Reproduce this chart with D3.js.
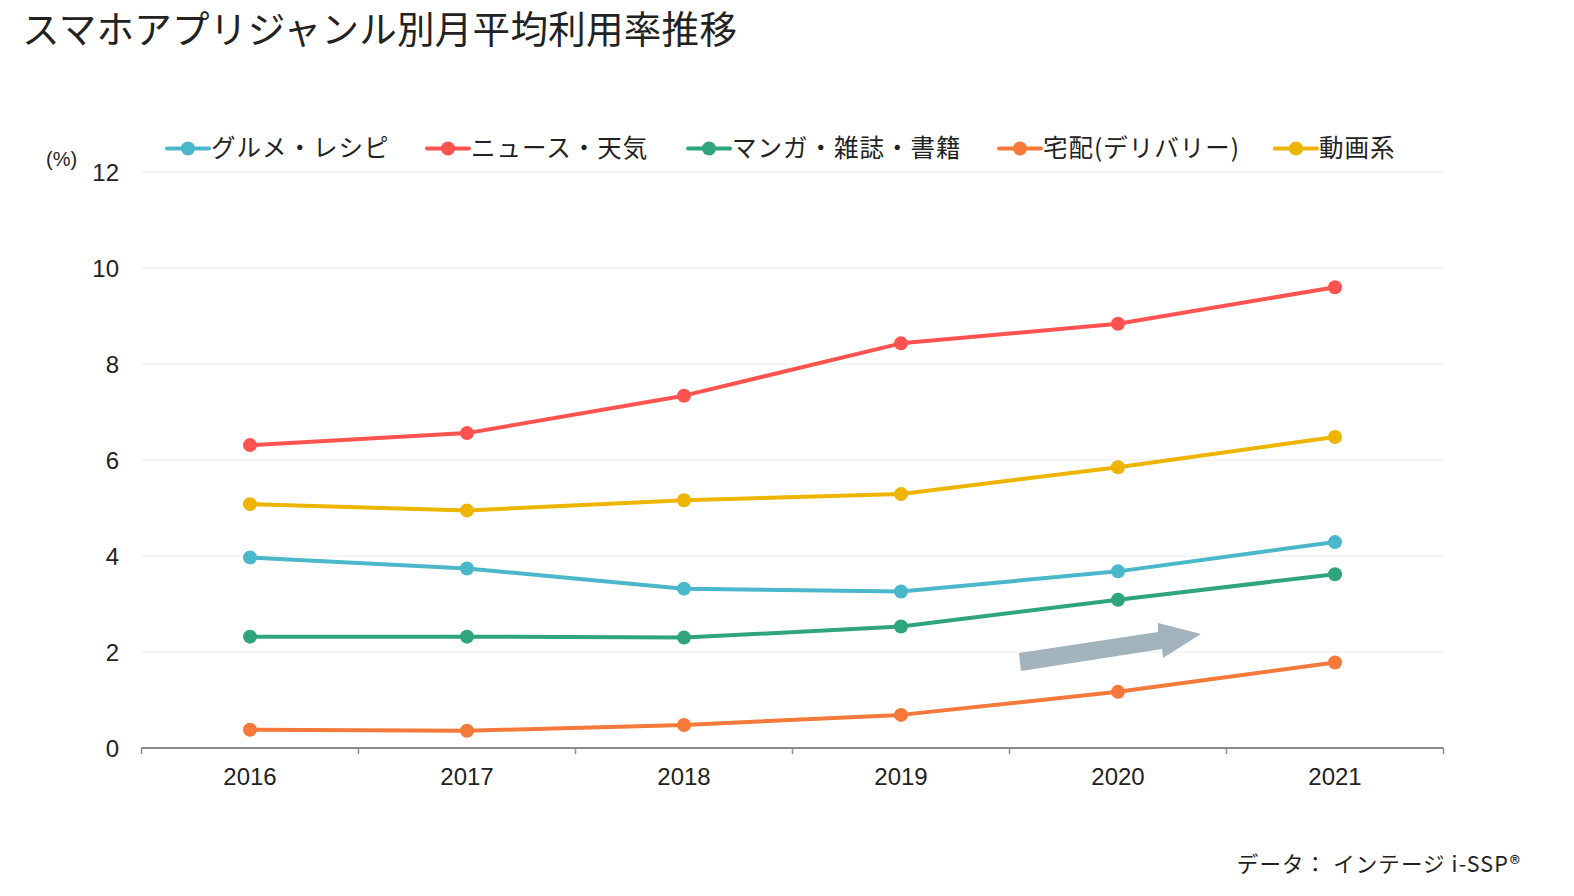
<!DOCTYPE html>
<html><head><meta charset="utf-8">
<script src="https://cdn.jsdelivr.net/npm/d3@7"></script>
<style>
body{margin:0;background:#fff;}
svg{display:block;}
text{font-family:"Noto Sans CJK JP","Noto Sans",sans-serif;}
</style></head>
<body><svg id="c" width="1574" height="896"></svg>
<script>
const years = ["2016","2017","2018","2019","2020","2021"];
const seriesNames = ["グルメ・レシピ","ニュース・天気","マンガ・雑誌・書籍","宅配(デリバリー)","動画系"];
const seriesColors = ["#4AB7CB","#FF5350","#2FA57C","#F5793A","#EDB500"];
const gourmet = [3.97,3.74,3.32,3.26,3.68,4.29];
const news = [6.31,6.56,7.34,8.43,8.84,9.60];
const manga = [2.32,2.32,2.30,2.53,3.09,3.62];
const delivery = [0.38,0.36,0.48,0.69,1.17,1.78];
const video = [5.08,4.95,5.16,5.29,5.85,6.48];
const yTicks = [0,2,4,6,8,10,12];
const seriesValues = [gourmet,news,manga,delivery,video];
const drawOrder = [3,2,0,4,1];

(function(){
const svg = d3.select("#c");
const pL = 141.5, pR = 1443.5, pT = 172, pB = 748;
const x = d3.scaleBand().domain(years).range([pL,pR]);
const y = d3.scaleLinear().domain([0,12]).range([pB,pT]);
const latin = "'Liberation Sans',Arial,sans-serif";

svg.append("text").attr("x",22).attr("y",43).attr("font-size",37.5).attr("letter-spacing",0.3).attr("fill","#222").text("スマホアプリジャンル別月平均利用率推移");

svg.append("g").selectAll("line").data(yTicks.filter(d=>d>0)).join("line")
  .attr("x1",pL).attr("x2",pR).attr("y1",d=>y(d)).attr("y2",d=>y(d))
  .attr("stroke","#ebebeb").attr("stroke-width",1.2);

svg.append("g").selectAll("text").data(yTicks).join("text")
  .attr("x",119).attr("y",d=>y(d)+8.5).attr("text-anchor","end")
  .attr("font-size",24).attr("fill","#222").style("font-family",latin).text(d=>d);
svg.append("text").attr("x",46).attr("y",166).attr("font-size",20).attr("fill","#222")
  .style("font-family",latin).text("(%)");

const xAxis = d3.axisBottom(x).tickSize(0).tickPadding(20);
const gx = svg.append("g").attr("transform",`translate(0,${pB})`).call(xAxis);
gx.select(".domain").remove();
gx.selectAll("text").attr("font-size",24).attr("fill","#222").style("font-family",latin);
svg.append("line").attr("x1",pL).attr("x2",pR).attr("y1",pB).attr("y2",pB).attr("stroke","#8c8c8c").attr("stroke-width",2);
const bounds = years.map(d=>x(d)).concat([pR]);
svg.append("g").selectAll("line").data(bounds).join("line")
  .attr("x1",d=>d).attr("x2",d=>d).attr("y1",pB).attr("y2",pB+6)
  .attr("stroke","#8c8c8c").attr("stroke-width",1.5);

svg.append("path")
  .attr("d","M1019,653 L1158,632 L1158,623 L1201,634 L1163,658 L1162,649 L1021,671 Z")
  .attr("fill","#A3B3BD");

const line = d3.line().x((d,i)=>x(years[i])+x.bandwidth()/2).y(d=>y(d));
drawOrder.forEach(k=>{
  const g = svg.append("g");
  g.append("path").attr("d",line(seriesValues[k])).attr("fill","none")
    .attr("stroke",seriesColors[k]).attr("stroke-width",4).attr("stroke-linejoin","round");
  g.selectAll("circle").data(seriesValues[k]).join("circle")
    .attr("cx",(d,i)=>x(years[i])+x.bandwidth()/2).attr("cy",d=>y(d)).attr("r",7)
    .attr("fill",seriesColors[k]);
});

const legX = [167,427,688,999,1275];
const ly = 148.5;
seriesNames.forEach((n,i)=>{
  const g = svg.append("g");
  g.append("line").attr("x1",legX[i]).attr("x2",legX[i]+42).attr("y1",ly).attr("y2",ly)
    .attr("stroke",seriesColors[i]).attr("stroke-width",4).attr("stroke-linecap","round");
  g.append("circle").attr("cx",legX[i]+21).attr("cy",ly).attr("r",7).attr("fill",seriesColors[i]);
  g.append("text").attr("x",legX[i]+44).attr("y",ly+8.5).attr("font-size",24.5).attr("letter-spacing",1).attr("fill","#222").text(n);
});

svg.append("text").attr("x",1521).attr("y",872).attr("text-anchor","end").attr("font-size",21.5).attr("letter-spacing",1.1).attr("fill","#222").text("データ： インテージ i-SSP®");
})();
</script></body></html>
